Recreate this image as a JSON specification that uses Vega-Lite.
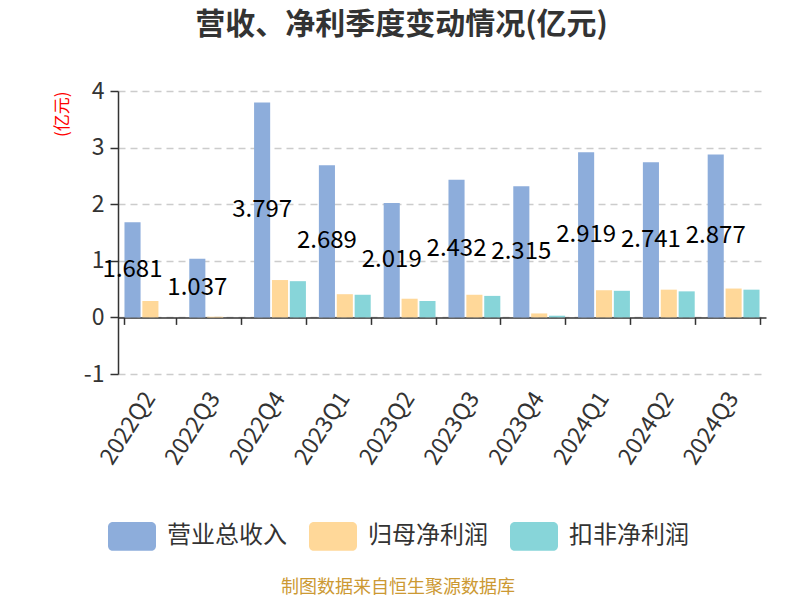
{
  "$schema": "https://vega.github.io/schema/vega-lite/v6.json",
  "background": "white",
  "padding": {"left": 53, "top": 10, "right": 5, "bottom": 5},
  "config": {"font": "Noto Sans CJK SC", "view": {"stroke": null}},
  "title": {"text": "营收、净利季度变动情况(亿元)", "fontSize": 30, "fontWeight": "bold", "color": "#333333", "anchor": "middle", "dx": -8, "offset": 40},
  "vconcat": [
    {
      "width": 648,
      "height": 283,
      "title": {"text": "制图数据来自恒生聚源数据库", "orient": "bottom", "fontSize": 18, "fontWeight": "normal", "color": "#CC9933", "anchor": "middle", "dx": -44, "offset": 111},
      "data": {"values": [
        {"q": "2022Q2", "s": "营业总收入", "v": 1.681},
        {"q": "2022Q3", "s": "营业总收入", "v": 1.037},
        {"q": "2022Q4", "s": "营业总收入", "v": 3.797},
        {"q": "2023Q1", "s": "营业总收入", "v": 2.689},
        {"q": "2023Q2", "s": "营业总收入", "v": 2.019},
        {"q": "2023Q3", "s": "营业总收入", "v": 2.432},
        {"q": "2023Q4", "s": "营业总收入", "v": 2.315},
        {"q": "2024Q1", "s": "营业总收入", "v": 2.919},
        {"q": "2024Q2", "s": "营业总收入", "v": 2.741},
        {"q": "2024Q3", "s": "营业总收入", "v": 2.877},
        {"q": "2022Q2", "s": "归母净利润", "v": 0.29},
        {"q": "2022Q3", "s": "归母净利润", "v": 0.01},
        {"q": "2022Q4", "s": "归母净利润", "v": 0.66},
        {"q": "2023Q1", "s": "归母净利润", "v": 0.41},
        {"q": "2023Q2", "s": "归母净利润", "v": 0.33},
        {"q": "2023Q3", "s": "归母净利润", "v": 0.40},
        {"q": "2023Q4", "s": "归母净利润", "v": 0.07},
        {"q": "2024Q1", "s": "归母净利润", "v": 0.48},
        {"q": "2024Q2", "s": "归母净利润", "v": 0.49},
        {"q": "2024Q3", "s": "归母净利润", "v": 0.51},
        {"q": "2022Q2", "s": "扣非净利润", "v": 0.0},
        {"q": "2022Q3", "s": "扣非净利润", "v": 0.0},
        {"q": "2022Q4", "s": "扣非净利润", "v": 0.64},
        {"q": "2023Q1", "s": "扣非净利润", "v": 0.40},
        {"q": "2023Q2", "s": "扣非净利润", "v": 0.29},
        {"q": "2023Q3", "s": "扣非净利润", "v": 0.38},
        {"q": "2023Q4", "s": "扣非净利润", "v": 0.03},
        {"q": "2024Q1", "s": "扣非净利润", "v": 0.47},
        {"q": "2024Q2", "s": "扣非净利润", "v": 0.46},
        {"q": "2024Q3", "s": "扣非净利润", "v": 0.49}
      ]},
      "layer": [
        {
          "mark": {"type": "bar"},
          "encoding": {
            "x": {"field": "q", "type": "nominal", "sort": null,
                  "scale": {"paddingInner": 0.2, "paddingOuter": 0.1},
                  "axis": {"orient": "bottom", "title": null, "domain": false, "ticks": false, "grid": false, "labelAngle": -57, "labelFontSize": 23, "labelColor": "#333333", "labelPadding": 20}},
            "xOffset": {"field": "s", "type": "nominal", "sort": ["营业总收入", "归母净利润", "扣非净利润"], "scale": {"paddingInner": 0.1, "paddingOuter": 0}},
            "y": {"field": "v", "type": "quantitative",
                  "scale": {"domain": [-1, 4], "nice": false},
                  "axis": {"values": [-1, 0, 1, 2, 3, 4], "labelExpr": "'' + datum.value", "title": "(亿元)", "titleColor": "#FF0000", "titleFontSize": 17, "titleFontWeight": "normal", "titleAnchor": "end", "titlePadding": 12,
                           "labelFontSize": 23, "labelColor": "#333333", "labelPadding": 6, "domainColor": "#333333", "domainWidth": 1.5, "tickColor": "#333333", "tickSize": 8, "tickWidth": 1.5,
                           "grid": true, "gridColor": "#CCCCCC", "gridDash": [7, 5], "gridWidth": 1.3}},
            "color": {"field": "s", "type": "nominal", "sort": ["营业总收入", "归母净利润", "扣非净利润"],
                      "scale": {"domain": ["营业总收入", "归母净利润", "扣非净利润"], "range": ["#8DADDB", "#FFD899", "#87D5D9"]},
                      "legend": {"title": null, "orient": "none", "direction": "horizontal", "legendX": -10, "legendY": 421,
                                 "symbolType": "M-0.8,-0.6H0.8A0.2,0.2,0,0,1,1,-0.4V0.4A0.2,0.2,0,0,1,0.8,0.6H-0.8A0.2,0.2,0,0,1,-1,0.4V-0.4A0.2,0.2,0,0,1,-0.8,-0.6Z",
                                 "symbolSize": 2304, "symbolStrokeWidth": 0, "symbolOpacity": 1, "labelFontSize": 24, "labelColor": "#333333", "labelOffset": 11, "columnPadding": 21}}
          }
        },
        {
          "transform": [{"filter": "datum.s === '营业总收入'"}, {"calculate": "datum.v / 2", "as": "mid"}],
          "mark": {"type": "text", "fontSize": 24, "color": "#000000", "align": "center", "baseline": "middle"},
          "encoding": {
            "x": {"field": "q", "type": "nominal", "sort": null,
                  "axis": {"orient": "bottom", "title": null, "labels": false, "grid": false, "domain": true, "domainColor": "#333333", "domainWidth": 1.5, "ticks": true, "tickBand": "extent", "tickColor": "#333333", "tickSize": 7, "tickWidth": 1.5, "offset": -56.6}},
            "xOffset": {"field": "s", "type": "nominal", "sort": ["营业总收入", "归母净利润", "扣非净利润"]},
            "y": {"field": "mid", "type": "quantitative"},
            "text": {"field": "v", "type": "quantitative", "format": ".3f"}
          }
        }
      ],
      "resolve": {"axis": {"x": "independent"}}
    }
  ]
}
